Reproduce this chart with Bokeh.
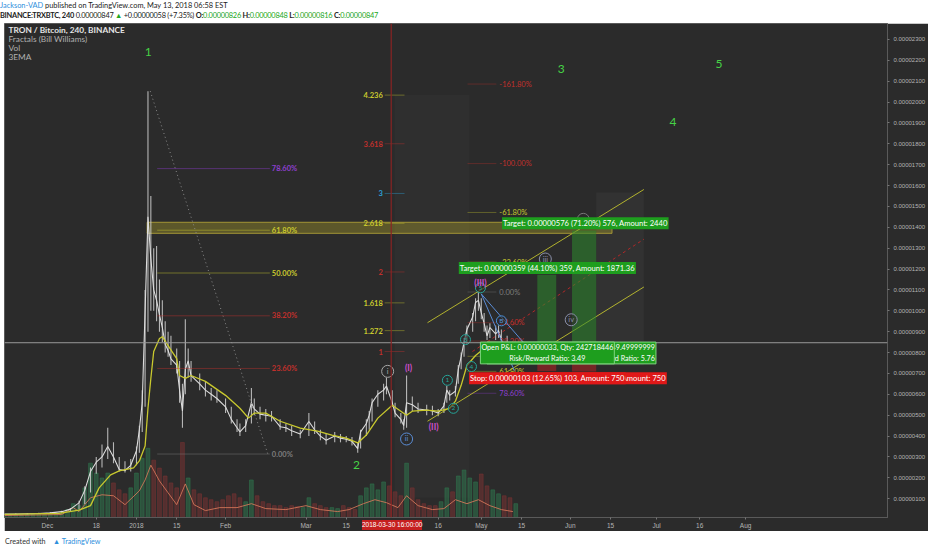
import numpy as np
import pandas as pd
from bokeh.plotting import figure
from bokeh.models import (Range1d, Label, Span, FixedTicker,
                          SingleIntervalTicker, CustomJSTickFormatter, Div, Spacer)
from bokeh.layouts import column, row
from bokeh.core.properties import value
from bokeh.embed import file_html
from bokeh.resources import INLINE

FONT = "Lato"
BG = "#2b2b2b"

# ---------------- data (prices in satoshi = 1e-8 BTC) ----------------
price_dates = ["2017-11-16", "2017-11-20", "2017-11-24", "2017-11-28", "2017-12-02", "2017-12-06",
               "2017-12-09", "2017-12-12", "2017-12-14", "2017-12-16", "2017-12-18", "2017-12-20",
               "2017-12-22", "2017-12-24", "2017-12-26", "2017-12-28", "2017-12-30", "2018-01-01",
               "2018-01-02", "2018-01-03", "2018-01-04", "2018-01-05", "2018-01-06", "2018-01-07",
               "2018-01-08", "2018-01-09", "2018-01-10", "2018-01-11", "2018-01-12", "2018-01-13",
               "2018-01-15", "2018-01-16", "2018-01-17", "2018-01-18", "2018-01-19", "2018-01-20",
               "2018-01-23", "2018-01-25", "2018-01-27", "2018-01-29", "2018-02-01", "2018-02-03",
               "2018-02-05", "2018-02-06", "2018-02-08", "2018-02-10", "2018-02-11", "2018-02-13",
               "2018-02-15", "2018-02-17", "2018-02-20", "2018-02-22", "2018-02-24", "2018-02-27",
               "2018-03-02", "2018-03-04", "2018-03-06", "2018-03-08", "2018-03-11", "2018-03-13",
               "2018-03-15", "2018-03-17", "2018-03-19", "2018-03-20", "2018-03-22", "2018-03-23",
               "2018-03-24", "2018-03-26", "2018-03-28", "2018-03-29", "2018-03-31", "2018-04-01",
               "2018-04-03", "2018-04-04", "2018-04-05", "2018-04-07", "2018-04-09", "2018-04-12",
               "2018-04-14", "2018-04-16", "2018-04-18", "2018-04-19", "2018-04-20", "2018-04-22",
               "2018-04-23", "2018-04-24", "2018-04-25", "2018-04-26", "2018-04-28", "2018-04-29",
               "2018-04-30", "2018-05-01", "2018-05-02", "2018-05-03", "2018-05-04", "2018-05-06",
               "2018-05-07", "2018-05-08", "2018-05-10", "2018-05-11", "2018-05-12", "2018-05-13"]
price_low = [24, 25, 26, 27, 28, 30, 36, 48, 75, 130, 220, 250, 290, 270, 230, 225, 230, 260,
             320, 420, 540, 900, 1000, 1000, 950, 900, 850, 800, 780, 740, 700, 560, 440, 600, 680, 660,
             620, 590, 570, 560, 510, 460, 420, 400, 420, 460, 500, 480, 470, 470, 430, 420, 400, 390,
             400, 410, 380, 360, 370, 370, 370, 355, 320, 340, 400, 430, 470, 540, 570, 600, 540, 490,
             460, 430, 440, 520, 510, 500, 500, 495, 510, 560, 570, 590, 650, 720, 780, 840, 900, 950,
             1000, 960, 900, 860, 870, 860, 870, 840, 800, 760, 770, 810]
price_high = [28, 30, 31, 33, 36, 42, 55, 90, 160, 250, 300, 360, 440, 370, 300, 280, 290, 350,
              450, 620, 1100, 2052, 1550, 1300, 1310, 1150, 1050, 950, 900, 880, 820, 760, 650, 960, 820, 760,
              700, 660, 630, 620, 580, 540, 480, 460, 480, 630, 580, 540, 530, 520, 480, 460, 450, 430,
              510, 470, 430, 410, 420, 410, 400, 395, 370, 430, 480, 520, 580, 620, 650, 680, 620, 560,
              510, 480, 690, 590, 560, 550, 545, 530, 560, 640, 620, 640, 740, 800, 870, 930, 990, 1060,
              1095, 1060, 990, 930, 940, 930, 930, 910, 880, 830, 840, 848]
price_close = [26, 27, 28, 29, 32, 38, 50, 80, 140, 230, 275, 300, 350, 300, 240, 235, 260, 330,
               430, 560, 1000, 1450, 1250, 1100, 1050, 980, 920, 840, 810, 770, 740, 620, 520, 720, 760, 690,
               650, 620, 600, 580, 540, 480, 440, 420, 450, 560, 530, 505, 500, 495, 445, 440, 425, 410,
               470, 430, 400, 380, 400, 390, 385, 375, 340, 420, 460, 500, 560, 600, 620, 640, 560, 510,
               480, 450, 560, 550, 530, 525, 520, 510, 545, 620, 595, 615, 720, 780, 850, 910, 970, 1040,
               1050, 990, 940, 880, 920, 890, 905, 860, 820, 780, 810, 847]

ema_dates = ["2017-11-16", "2017-12-05", "2017-12-12", "2017-12-16", "2017-12-19", "2017-12-23",
             "2017-12-26", "2017-12-31", "2018-01-02", "2018-01-04", "2018-01-05", "2018-01-06",
             "2018-01-07", "2018-01-09", "2018-01-10", "2018-01-12", "2018-01-15", "2018-01-16",
             "2018-01-18", "2018-01-20", "2018-01-25", "2018-02-01", "2018-02-06", "2018-02-09",
             "2018-02-11", "2018-02-15", "2018-02-20", "2018-02-27", "2018-03-05", "2018-03-10",
             "2018-03-15", "2018-03-19", "2018-03-22", "2018-03-26", "2018-03-31", "2018-04-05",
             "2018-04-07", "2018-04-12", "2018-04-16", "2018-04-20", "2018-04-22", "2018-04-24",
             "2018-04-26", "2018-04-29", "2018-05-02", "2018-05-04", "2018-05-07", "2018-05-10",
             "2018-05-13"]
ema_values = [25, 30, 45, 67, 152, 214, 233, 248, 281, 352, 533, 676, 805, 867, 876, 833, 771, 690,
              676, 690, 662, 595, 533, 486, 510, 510, 471, 438, 424, 405, 390, 367, 405, 486, 548, 500,
              519, 524, 519, 533, 567, 643, 738, 786, 819, 829, 833, 829, 830]

vol_start = "2017-11-16"   # one bar every two days
volumes = [2, 2, 3, 2, 3, 3, 4, 3,
           4, 4, 5, 8, 14, 12, 30, 55, 45, 40, 45, 35, 28, 24, 30,
           45, 60, 70, 58, 50, 42, 35, 30, 76, 40, 28, 24, 20, 18, 16, 18,
           22, 24, 20, 16, 38, 22, 16, 14, 12, 12, 10, 12, 11, 10,
           20, 14, 12, 10, 10, 9, 12, 10, 8, 22, 30, 34, 28, 36, 32,
           26, 22, 55, 30, 18, 14, 12, 12, 16, 30, 26, 42, 48, 40, 36,
           44, 32, 28, 24, 22, 20, 14]
vma_dates = ["2017-11-16", "2017-12-06", "2017-12-10", "2017-12-12", "2017-12-16", "2017-12-20",
             "2017-12-24", "2017-12-28", "2018-01-02", "2018-01-04", "2018-01-06", "2018-01-09",
             "2018-01-12", "2018-01-15", "2018-01-18", "2018-01-21", "2018-01-25", "2018-01-30",
             "2018-02-05", "2018-02-10", "2018-02-15", "2018-02-22", "2018-03-01", "2018-03-06",
             "2018-03-12", "2018-03-16", "2018-03-21", "2018-03-25", "2018-03-29", "2018-04-02",
             "2018-04-05", "2018-04-09", "2018-04-14", "2018-04-18", "2018-04-22", "2018-04-26",
             "2018-04-30", "2018-05-04", "2018-05-08", "2018-05-12"]
vma_values = [2, 3, 10, 6, 20, 23, 22, 13, 27, 38, 53, 37, 25, 13, 34, 13, 7, 10, 10, 14, 9, 8,
              12, 8, 6, 8, 14, 18, 15, 10, 22, 12, 8, 9, 18, 14, 18, 12, 8, 6]

# Fibonacci retracement of wave 1
ret_txt = ["78.60%", "61.80%", "50.00%", "38.20%", "23.60%", "0.00%"]
ret_val = [1681, 1386, 1181, 976, 724, 314]
ret_col = ["#8e3fd0", "#c9c92e", "#c9c92e", "#c0302c", "#c0302c", "#7d7d7d"]
ret_from, ret_to = "2018-01-08 05:00", "2018-02-16 10:00"
ret_band = (1371, 1424)
ret_band_from, ret_band_to = "2018-01-04 17:00", "2018-06-15 12:00"
ret_trend = (["2018-01-05 19:00", "2018-02-15 17:00"], [2052, 314])

# Fibonacci extension
ext_txt = ["4.236", "3.618", "3", "2.618", "2", "1.618", "1.272", "1"]
ext_val = [2033, 1800, 1562, 1419, 1186, 1038, 905, 805]
ext_col = ["#c9c92e", "#c0302c", "#2b9fd8", "#c9c92e", "#c0302c", "#c9c92e", "#c9c92e", "#c0302c"]
ext_label_at, ext_from, ext_to = "2018-03-27 17:00", "2018-03-28 09:00", "2018-04-04 07:00"

# Fibonacci of the current swing
fib2_txt = ["-161.80%", "-100.00%", "-61.80%", "-23.60%", "0.00%", "23.60%", "38.20%", "50.00%",
            "61.80%", "78.60%"]
fib2_val = [2086, 1705, 1471, 1233, 1090, 943, 855, 782, 710, 605]
fib2_col = ["#c0302c", "#c0302c", "#c9c92e", "#c9c92e", "#7d7d7d", "#c0302c", "#c0302c", "#c9c92e",
            "#c9c92e", "#8e3fd0"]
fib2_label_at, fib2_from, fib2_to = "2018-05-07 07:00", "2018-04-26 05:00", "2018-05-06 06:00"

# Elliott wave labels
big_txt = ["1", "2", "3", "4", "5"]
big_x = ["2018-01-05 02:00", "2018-03-18 14:00", "2018-05-28 19:00", "2018-07-06 17:00", "2018-07-22 17:00"]
big_y = [2238, 262, 2157, 1905, 2181]
rom_txt = ["i", "ii", "iii", "iv", "v"]
rom_x = ["2018-03-29 10:00", "2018-04-05 00:00", "2018-05-23 07:00", "2018-06-01 07:00", "2018-06-05 12:00"]
rom_y = [710, 386, 1248, 957, 1438]
rom_col = ["#a8a8a8", "#5b8dd6", "#8a8fa8", "#8a8fa8", "#777777"]
mag_txt = ["(I)", "(II)", "(III)"]
mag_x = ["2018-04-05 17:00", "2018-04-14 10:00", "2018-04-30 17:00"]
mag_y = [724, 443, 1133]
min_txt = ["1", "2", "3", "4", "5", "B"]
min_x = ["2018-04-19 05:00", "2018-04-21 07:00", "2018-04-25 12:00", "2018-04-27 14:00",
         "2018-04-30 17:00", "2018-05-08 00:00"]
min_y = [667, 533, 862, 733, 1110, 952]
min_col = ["#26a69a", "#26a69a", "#26a69a", "#26a69a", "#26a69a", "#4a8fd8"]

# trend channel & other drawn lines
chan_x = ["2018-04-12 07:00", "2018-06-26 14:00"]
chan_upper = [943, 1581]
chan_lower = [471, 1114]
red_trend = (["2018-04-27 22:00", "2018-06-26 14:00"], [805, 1343])
blue_x0, blue_y0 = "2018-05-01 00:00", 1081
blue_x1 = ["2018-05-12 12:00", "2018-05-16 00:00"]
blue_y1 = [714, 843]

# long position tools
pos_left = ["2018-05-20 12:00", "2018-06-01 14:00"]
pos_right = ["2018-05-27 02:00", "2018-06-10 00:00"]
pos_entry = [814, 809]
pos_target = [1173, 1385]
pos_stop = [711, 709]

last_price = 847
crosshair_time = "2018-03-30 16:00"
crosshair_label = "2018-03-30 16:00:00"
x_start, x_end = "2017-11-16 01:40", "2018-09-19 09:00"
y_start, y_end = 10, 2376

date_ticks = ["2017-12-01", "2017-12-18", "2018-01-01", "2018-01-15", "2018-02-01", "2018-03-01",
              "2018-03-15", "2018-04-16", "2018-05-01", "2018-05-15", "2018-06-01",
              "2018-06-15", "2018-07-01", "2018-07-16", "2018-08-01"]
date_labels = ["Dec", "18", "2018", "15", "Feb", "Mar", "15", "16", "May", "15", "Jun",
               "15", "Jul", "16", "Aug"]


def ms(s):
    return pd.Timestamp(s).value / 1e6


DAY = 86400000.0

# ---------------- figure ----------------
FRAME_W, AXIS_W, LEFT_PAD = 885, 39, 4
p = figure(width=FRAME_W + AXIS_W, height=508, x_axis_type="datetime", y_axis_location="right",
           x_range=Range1d(ms(x_start), ms(x_end)), y_range=Range1d(y_start, y_end),
           output_backend="svg", toolbar_location=None,
           min_border_left=0, min_border_right=AXIS_W, min_border_top=0, min_border_bottom=11)
p.background_fill_color = BG
p.border_fill_color = BG
p.outline_line_color = "#5a5a5a"
p.grid.visible = False
p.extra_y_ranges = {"vol": Range1d(0, 500)}

yax = p.yaxis[0]
yax.ticker = SingleIntervalTicker(interval=100)
yax.formatter = CustomJSTickFormatter(code="return (tick/1e8).toFixed(8);")
xax = p.xaxis[0]
xax.ticker = FixedTicker(ticks=[ms(t) for t in date_ticks])
xax.formatter = CustomJSTickFormatter(args=dict(vals=[ms(t) for t in date_ticks], labs=date_labels),
                                      code="""
for (let i = 0; i < vals.length; i++) { if (Math.abs(vals[i] - tick) < 1000) return labs[i]; }
return "";""")
for ax, fs in ((xax, "6.5px"), (yax, "6px")):
    ax.major_label_text_font_size = fs
    ax.major_label_text_color = "#b4b4b4"
    ax.major_label_text_font = "Liberation Sans"
    ax.axis_line_color = "#5a5a5a"
    ax.major_tick_line_color = "#777777"
    ax.major_tick_in = 0
    ax.major_tick_out = 2
    ax.minor_tick_line_color = None
    ax.major_label_standoff = 2

# background shaded rectangles
p.quad(left=[ms("2018-03-31 19:00")], right=[ms("2018-04-26 22:00")], bottom=[105], top=[2033],
       fill_color="white", fill_alpha=0.02, line_color=None)
p.quad(left=[ms("2018-06-10 00:00")], right=[ms("2018-06-26 14:00")], bottom=[738], top=[1567],
       fill_color="white", fill_alpha=0.035, line_color=None)

# fib band at 61.8 %
p.quad(left=[ms(ret_band_from)], right=[ms(ret_band_to)], bottom=[ret_band[0]], top=[ret_band[1]],
       fill_color="#a89a2a", fill_alpha=0.4, line_color="#b8a838", line_alpha=0.8)

# volume
vol_dates = pd.date_range(vol_start, periods=len(volumes), freq="2D")
vol_x = np.array([ms(d) for d in vol_dates])
px_ms = np.array([ms(d) for d in price_dates])
c_now = np.interp(vol_x, px_ms, price_close)
c_prev = np.interp(vol_x - 2 * DAY, px_ms, price_close)
vol_colors = ["#2f7a4f" if a >= b else "#7e3434" for a, b in zip(c_now, c_prev)]
p.vbar(x=vol_x, top=volumes, width=1.3 * DAY, color=vol_colors, alpha=0.5, y_range_name="vol")
p.line([ms(d) for d in vma_dates], vma_values, color="#d8795a", line_width=1, alpha=0.85,
       y_range_name="vol")

# price
p.segment(x0=px_ms, x1=px_ms, y0=price_low, y1=price_high, color="#cfcfcf", line_width=1.1, alpha=0.85)
p.line(px_ms, price_close, color="#dcdcdc", line_width=1.1)
p.line([ms(d) for d in ema_dates], ema_values, color="#c9c92e", line_width=1.3)

# crosshair / last price line
p.add_layout(Span(location=last_price, dimension="width", line_color="#9a9a9a", line_width=1))
p.add_layout(Span(location=ms(crosshair_time), dimension="height", line_color="#8b2424", line_width=1.5,
                  line_alpha=0.8))

# dotted trend for fib
p.line([ms(d) for d in ret_trend[0]], ret_trend[1], color="#8a8a8a", line_dash="1 3", line_width=1)
# fib retracement lines + labels
n = len(ret_val)
p.segment(x0=[ms(ret_from)] * n, x1=[ms(ret_to)] * n, y0=ret_val, y1=ret_val, color=ret_col,
          line_alpha=0.45, line_width=1)
p.text(x=[ms(ret_to)] * n, y=ret_val, text=ret_txt, text_color=ret_col, text_font=value(FONT),
       text_font_size="7.5px", text_font_style="bold", text_align="left", text_baseline="middle", x_offset=2)

# fib extension
n = len(ext_val)
p.segment(x0=[ms(ext_from)] * n, x1=[ms(ext_to)] * n, y0=ext_val, y1=ext_val, color=ext_col,
          line_alpha=0.4, line_width=1)
p.text(x=[ms(ext_label_at)] * n, y=ext_val, text=ext_txt, text_color=ext_col, text_font=value(FONT),
       text_font_size="7.5px", text_font_style="bold", text_align="right", text_baseline="middle")

# fib of current swing
n = len(fib2_val)
p.segment(x0=[ms(fib2_from)] * n, x1=[ms(fib2_to)] * n, y0=fib2_val, y1=fib2_val, color=fib2_col,
          line_alpha=0.35, line_width=1)
p.text(x=[ms(fib2_label_at)] * n, y=fib2_val, text=fib2_txt, text_color=fib2_col, text_font=value(FONT),
       text_font_size="7.5px", text_align="left", text_baseline="middle")

# channel & lines
cx = [ms(d) for d in chan_x]
p.line(cx, chan_upper, color="#c9c92e", line_width=1, alpha=0.85)
p.line(cx, chan_lower, color="#c9c92e", line_width=1, alpha=0.85)
p.line([ms(d) for d in red_trend[0]], red_trend[1], color="#b02828", line_dash="3 3", line_width=1)
p.segment(x0=[ms(blue_x0)] * 2, y0=[blue_y0] * 2, x1=[ms(d) for d in blue_x1], y1=blue_y1,
          color="#5b8dd6", line_width=1)

# position tools
pl = [ms(d) for d in pos_left]
pr = [ms(d) for d in pos_right]
p.quad(left=pl, right=pr, bottom=pos_entry, top=pos_target, fill_color="#2e8b2e", fill_alpha=0.55,
       line_color=None)
p.quad(left=pl, right=pr, bottom=pos_stop, top=pos_entry, fill_color="#b22222", fill_alpha=0.55,
       line_color=None)

# wave labels
p.text(x=[ms(d) for d in big_x], y=big_y, text=big_txt, text_color="#46d246", text_font=value(FONT),
       text_font_size="12px", text_align="center", text_baseline="middle")
p.scatter(x=[ms(d) for d in rom_x], y=rom_y, size=12, marker="circle", fill_color=BG, fill_alpha=0.6,
          line_color=rom_col, line_width=1)
p.text(x=[ms(d) for d in rom_x], y=rom_y, text=rom_txt, text_color=rom_col, text_font=value(FONT),
       text_font_size="7.5px", text_align="center", text_baseline="middle")
p.scatter(x=[ms(d) for d in min_x], y=min_y, size=10, marker="circle", fill_color=BG, fill_alpha=0.6,
          line_color=min_col, line_width=1)
p.text(x=[ms(d) for d in min_x], y=min_y, text=min_txt, text_color=min_col, text_font=value(FONT),
       text_font_size="6.5px", text_align="center", text_baseline="middle")
p.text(x=[ms(d) for d in mag_x], y=mag_y, text=mag_txt, text_color="#d24fd2", text_font=value(FONT),
       text_font_size="8.5px", text_font_style="bold", text_align="center", text_baseline="middle")


def tag(x, y, text, bg, fg="white", align="center", size="7.6px", border=None, xo=0, yo=0,
        font=FONT, baseline="middle"):
    p.add_layout(Label(x=x, y=y, text=text, text_align=align, text_baseline=baseline,
                       text_color=fg, text_font=font, text_font_size=size, background_fill_color=bg,
                       background_fill_alpha=1.0, border_line_color=border, padding=1,
                       x_offset=xo, y_offset=yo))


# position labels
tag(ms("2018-06-06 05:00"), 1419, "Target: 0.00000576 (71.20%) 576, Amount: 2440", "#1e9e1e")
tag(ms("2018-05-24 00:00"), 1205, "Target: 0.00000359 (44.10%) 359, Amount: 1871.36", "#1e9e1e")
tag(ms("2018-06-30 19:00"), 798, "Open P&L: 0.00000038, Qty: 268882149.49999999\nRisk/Reward Ratio: 5.76",
    "#1e9e1e", align="right", border="#7fd87f", size="7.2px")
tag(ms("2018-05-24 00:00"), 798, "Open P&L: 0.00000033, Qty: 242718446\nRisk/Reward Ratio: 3.49",
    "#1e9e1e", border="#7fd87f", size="7.2px")
tag(ms("2018-07-04 14:00"), 677, "Stop: 0.00000100 (12.36%) 100, Amount: 750", "#e01818", align="right")
tag(ms("2018-05-24 00:00"), 677, "Stop: 0.00000103 (12.65%) 103, Amount: 750", "#e01818")

# price-axis tags
xe = ms(x_end)
AX = dict(align="left", size="6px", font="Liberation Sans", xo=1)
tag(xe, 1385, "0.00001385", "#1e9e1e", **AX)
tag(xe, 1173, "0.00001173", "#1e9e1e", **AX)
tag(xe, 847, "0.00000847", "#ffffff", fg="#222222", **AX)
tag(xe, 847, "01:17", "#ffffff", fg="#222222", align="left", size="6px", font="Liberation Sans",
    xo=12, yo=-9)
tag(xe, 814, "0.00000814", "#5a5a5a", yo=-10, **AX)
tag(xe, 809, "0.00000809", "#5a5a5a", yo=-17, **AX)
tag(xe, 711, "0.00000711", "#e01818", yo=-5, **AX)
tag(xe, 709, "0.00000709", "#e01818", yo=-14, **AX)

# legend (top-left)
for i, (txt, col, st) in enumerate([("TRON / Bitcoin, 240, BINANCE", "#e6e6e6", "bold"),
                                    ("Fractals (Bill Williams)", "#b0b0b0", "normal"),
                                    ("Vol", "#b0b0b0", "normal"), ("3EMA", "#b0b0b0", "normal")]):
    p.add_layout(Label(x=4, y=488 - 9 * i, x_units="screen", y_units="screen", text=txt,
                       text_color=col, text_font=FONT, text_font_size="8.3px", text_font_style=st,
                       text_baseline="middle"))

# horizontal pixel position of the crosshair time on the time axis (for its red tag)
x0_ms, x1_ms = ms(x_start), ms(x_end)
cross_px = LEFT_PAD + (ms(crosshair_time) - x0_ms) / (x1_ms - x0_ms) * FRAME_W

header = Div(text=(
    '<div style="white-space:nowrap;line-height:10px">'
    '<span style="color:#2f8fdc">Jackson-VAD</span> published on TradingView.com, May 13, 2018 06:58 EST</div>'
    '<div style="white-space:nowrap;line-height:10px;letter-spacing:-0.25px"><b>BINANCE:TRXBTC, 240</b> 0.00000847 '
    '<span style="color:#22a722">&#9650;</span> +0.00000058 (+7.35%) '
    '<b>O:</b><span style="color:#22a722">0.00000826</span> '
    '<b>H:</b><span style="color:#22a722">0.00000848</span> '
    '<b>L:</b><span style="color:#22a722">0.00000816</span> '
    '<b>C:</b><span style="color:#22a722">0.00000847</span></div>'),
    width=928, height=23, margin=0,
    styles={"font-family": "Lato", "font-size": "7.4px", "color": "#222222", "padding-top": "1px"})
footer = Div(text=(
    '<div style="position:relative;height:0;overflow:visible">'
    f'<div style="position:absolute;left:{cross_px - 30:.0f}px;top:-11px;width:60px;height:10px;'
    'background:#c62020;color:#ffffff;font-family:\'Liberation Sans\';font-size:6.5px;line-height:10px;'
    f'text-align:center;white-space:nowrap">{crosshair_label}</div></div>'
    '<div style="white-space:nowrap;padding-top:6px;padding-left:5px">Created with &nbsp;&nbsp;&nbsp;'
    '<span style="color:#2f8fdc">&#9650; TradingView</span></div>'),
    width=928, height=17, margin=0,
    styles={"font-family": "Lato", "font-size": "7.2px", "color": "#333333", "overflow": "visible"})

layout = column(header, row(Spacer(width=LEFT_PAD, height=508), p, spacing=0), footer, spacing=0)
open("out.html", "w").write(file_html(layout, INLINE))
